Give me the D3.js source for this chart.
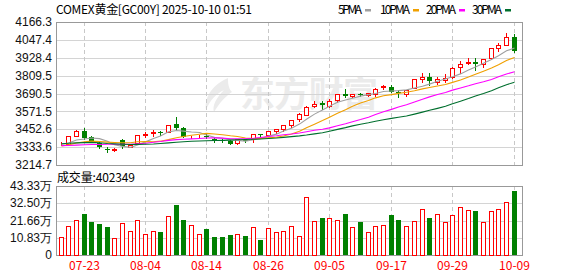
<!DOCTYPE html>
<html>
<head>
<meta charset="utf-8">
<script src="https://cdn.jsdelivr.net/npm/d3@7/dist/d3.min.js"></script>
<style>
  html, body { margin: 0; padding: 0; background: #fff; }
  svg { display: block; }
</style>
</head>
<body>
<script>
// COMEX gold daily K-line with MA lines and volume panel

// trading days shown (MM-DD)
var dates = ["07-18","07-21","07-22","07-23","07-24","07-25","07-28","07-29","07-30","07-31",
             "08-01","08-04","08-05","08-06","08-07","08-08","08-11","08-12","08-13","08-14",
             "08-15","08-18","08-19","08-20","08-21","08-22","08-25","08-26","08-27","08-28",
             "08-29","09-01","09-02","09-03","09-04","09-05","09-08","09-09","09-10","09-11",
             "09-12","09-15","09-16","09-17","09-18","09-19","09-22","09-23","09-24","09-25",
             "09-26","09-29","09-30","10-01","10-02","10-03","10-06","10-07","10-08","10-09"];

var open  = [3352,3356,3410,3440,3399,3360,3320,3316,3380,3337,
             3358,3413,3425,3434,3437,3487,3458,3400,3405,3410,
             3385,3379,3376,3359,3380,3390,3418,3412,3443,3452,
             3478,3520,3547,3605,3628,3609,3646,3686,3675,3686,
             3682,3686,3735,3735,3700,3688,3728,3786,3797,3770,
             3779,3797,3868,3894,3903,3887,3925,3996,4016,4068];
var high  = [3367,3410,3449,3458,3405,3368,3334,3325,3388,3350,
             3416,3436,3445,3442,3482,3535,3470,3410,3416,3418,
             3392,3387,3380,3390,3384,3420,3420,3442,3454,3482,
             3516,3562,3605,3638,3638,3657,3688,3718,3690,3692,
             3697,3725,3748,3750,3712,3716,3786,3824,3824,3799,
             3819,3865,3905,3927,3927,3919,3995,4025,4093,4086];
var low   = [3345,3350,3405,3388,3367,3327,3298,3310,3330,3333,
             3352,3403,3405,3415,3432,3452,3398,3396,3400,3393,
             3368,3370,3353,3355,3370,3365,3410,3405,3425,3438,
             3470,3510,3545,3598,3587,3603,3633,3670,3667,3675,
             3672,3673,3721,3698,3668,3675,3725,3770,3750,3755,
             3766,3795,3828,3887,3846,3867,3918,3975,4012,3965];
var close = [3355,3407,3438,3394,3376,3336,3318,3320,3342,3345,
             3414,3422,3432,3428,3480,3458,3402,3404,3410,3400,
             3376,3374,3357,3387,3375,3418,3415,3440,3452,3478,
             3513,3551,3602,3622,3613,3642,3684,3673,3685,3682,
             3691,3721,3740,3701,3695,3715,3784,3797,3773,3788,
             3791,3863,3890,3903,3885,3917,3992,4014,4065,3975];

// closes of the 29 sessions before the first shown day (needed for the MAs)
var priorClose = [3331,3343,3344,3343,3408,3452,3403,3408,3407,3388,
                  3385,3394,3333,3343,3348,3287,3307,3349,3357,3342,
                  3342,3310,3322,3325,3363,3359,3341,3359,3346];

// volume (contracts)
var volume = [110000,180000,218000,258000,207000,194000,175000,104000,199000,148000,
              218000,129000,148000,144000,243000,315000,220000,186000,129000,163000,
              112000,112000,125000,129000,118000,174000,93000,167000,142000,148000,
              180000,117000,364000,212000,232000,231000,218000,258000,174000,207000,
              142000,180000,186000,251000,220000,181000,212000,288000,232000,256000,
              205000,250000,300000,281000,277000,205000,275000,288000,332000,402349];

var priceTicks = [3214.7,3333.6,3452.6,3571.5,3690.5,3809.5,3928.4,4047.4,4166.3];
var volTicks   = [0,108300,216600,325000,433300];
var volLabels  = ["0","10.83万","21.66万","32.50万","43.33万"];
var dateTicks  = ["07-23","08-04","08-14","08-26","09-05","09-17","09-29","10-09"];

var maPeriods = [5,10,20,30];
var maNames   = ["5PMA","10PMA","20PMA","30PMA"];
var maColors  = ["#a0a0a0","#f0a000","#ff00ff","#006f2e"];

var width = 578, height = 276;
var plotL = 56, plotR = 522;
var mainTop = 22, mainBot = 165;
var volTop = 186, volBot = 255;
var RED = "#ff0000", GREEN = "#008000";
var CJK = "SimSun,'Noto Sans CJK SC',sans-serif";

var svg = d3.select("body").append("svg")
    .attr("width", width)
    .attr("height", height);

var x = d3.scaleBand()
    .domain(d3.range(dates.length))
    .range([56.7, 517.5]);
function cx(i) { return Math.round(x(i) + x.bandwidth() / 2); }

var y = d3.scaleLinear().domain([3214.7, 4166.3]).range([mainBot, mainTop]);
var yv = d3.scaleLinear().domain([0, 433300]).range([volBot, volTop]);
function px(v) { return Math.round(v) + 0.5; }

// watermark
var wm = svg.append("g").attr("fill", "#ebebeb");
wm.append("path")
    .attr("d", "M228,78 C214,84 204,96 206,110 C210,100 216,94 224,90 C216,98 212,106 214,112 C220,102 226,96 232,92 C228,88 228,82 228,78 Z");
wm.append("text")
    .attr("x", 240).attr("y", 107)
    .attr("font-family", CJK).attr("font-weight", "bold")
    .attr("font-size", 35)
    .attr("textLength", 138)
    .text("东方财富");

// grid: price panel
svg.append("g").selectAll("line")
    .data(priceTicks.slice(1, -1))
    .enter().append("line")
      .attr("x1", plotL).attr("x2", plotR)
      .attr("y1", function(d){ return px(y(d)); })
      .attr("y2", function(d){ return px(y(d)); })
      .attr("stroke", "#d4d4d4");

// grid: volume panel
svg.append("g").selectAll("line")
    .data(volTicks.slice(1, -1))
    .enter().append("line")
      .attr("x1", plotL).attr("x2", plotR)
      .attr("y1", function(d){ return px(yv(d)); })
      .attr("y2", function(d){ return px(yv(d)); })
      .attr("stroke", "#d4d4d4");

// vertical dashed grid at date ticks, both panels
var tickIdx = dateTicks.map(function(d){ return dates.indexOf(d); });
[[mainTop, mainBot], [volTop, volBot]].forEach(function(r){
  svg.append("g").selectAll("line")
      .data(tickIdx)
      .enter().append("line")
        .attr("x1", function(i){ return cx(i) + 0.5; })
        .attr("x2", function(i){ return cx(i) + 0.5; })
        .attr("y1", r[0]).attr("y2", r[1])
        .attr("stroke", "#c8c8c8")
        .attr("stroke-dasharray", "4,3");
});

// panel borders
[[mainTop, mainBot], [volTop, volBot]].forEach(function(r){
  svg.append("rect")
      .attr("x", plotL + 0.5).attr("y", r[0] + 0.5)
      .attr("width", plotR - plotL).attr("height", r[1] - r[0])
      .attr("fill", "none")
      .attr("stroke", "#999");
});

// y axis labels
svg.append("g").selectAll("text")
    .data(priceTicks)
    .enter().append("text")
      .attr("x", 52)
      .attr("y", function(d){ return y(d); })
      .attr("dy", "0.35em")
      .attr("text-anchor", "end")
      .attr("font-family", "'Liberation Sans',Arial,sans-serif")
      .attr("font-size", 12)
      .attr("fill", "#111")
      .text(function(d){ return d.toFixed(1); });

svg.append("g").selectAll("text")
    .data(volTicks)
    .enter().append("text")
      .attr("x", 52)
      .attr("y", function(d){ return yv(d); })
      .attr("dy", "0.35em")
      .attr("text-anchor", "end")
      .attr("font-family", "'Liberation Sans',Arial,sans-serif")
      .attr("font-size", 12)
      .attr("fill", "#111")
      .text(function(d, i){ return volLabels[i]; });

// date labels
svg.append("g").selectAll("text")
    .data(tickIdx)
    .enter().append("text")
      .attr("x", function(i){ return cx(i) + 0.5; })
      .attr("y", 270)
      .attr("text-anchor", "middle")
      .attr("font-family", CJK)
      .attr("font-size", 12)
      .attr("textLength", 31)
      .attr("fill", RED)
      .text(function(i){ return dates[i]; });

// candles
var idx = d3.range(dates.length);
var candles = svg.append("g").selectAll("g")
    .data(idx)
    .enter().append("g");

candles.append("line")
    .attr("x1", function(i){ return cx(i) + 0.5; })
    .attr("x2", function(i){ return cx(i) + 0.5; })
    .attr("y1", function(i){ return Math.round(y(high[i])); })
    .attr("y2", function(i){ return Math.round(y(low[i])) + 1; })
    .attr("stroke", function(i){ return close[i] >= open[i] ? RED : GREEN; });

candles.append("rect")
    .attr("x", function(i){ return close[i] >= open[i] ? cx(i) - 1.5 : cx(i) - 2; })
    .attr("y", function(i){
      var t = Math.round(y(Math.max(open[i], close[i])));
      return close[i] >= open[i] ? t + 0.5 : t;
    })
    .attr("width", function(i){ return close[i] >= open[i] ? 4 : 5; })
    .attr("height", function(i){
      var h = Math.round(y(Math.min(open[i], close[i]))) - Math.round(y(Math.max(open[i], close[i])));
      return close[i] >= open[i] ? Math.max(h, 0) : Math.max(h, 1);
    })
    .attr("fill", function(i){ return close[i] >= open[i] ? "#fff" : GREEN; })
    .attr("stroke", function(i){ return close[i] >= open[i] ? RED : "none"; });

// moving averages
var allClose = priorClose.concat(close);
var n0 = priorClose.length;
maPeriods.forEach(function(p, k){
  var ma = idx.map(function(i){
    return d3.mean(allClose.slice(n0 + i - p + 1, n0 + i + 1));
  });
  svg.append("path")
      .datum(ma)
      .attr("fill", "none")
      .attr("stroke", maColors[k])
      .attr("stroke-width", 1.1)
      .attr("d", d3.line()
          .x(function(d, i){ return cx(i) + 0.5; })
          .y(function(d){ return y(d); }));
});

// volume bars, coloured by change against the previous close
function volUp(i) {
  var prev = i === 0 ? priorClose[n0 - 1] : close[i - 1];
  return close[i] >= prev;
}
svg.append("g").selectAll("rect")
    .data(idx)
    .enter().append("rect")
      .attr("x", function(i){ return volUp(i) ? cx(i) - 1.5 : cx(i) - 2; })
      .attr("y", function(i){ return Math.round(yv(volume[i])) + (volUp(i) ? 0.5 : 0); })
      .attr("width", function(i){ return volUp(i) ? 4 : 5; })
      .attr("height", function(i){ return volBot - Math.round(yv(volume[i])); })
      .attr("fill", function(i){ return volUp(i) ? "#fff" : GREEN; })
      .attr("stroke", function(i){ return volUp(i) ? RED : "none"; });

// title
svg.append("text")
    .attr("x", 56).attr("y", 14)
    .attr("font-family", CJK).attr("font-size", 12)
    .attr("textLength", 196)
    .attr("fill", "#000")
    .text("COMEX黄金[GC00Y] 2025-10-10 01:51");

// legend
var legX = [338, 380, 426, 472];
var legW = [24, 30, 30, 30];
maNames.forEach(function(name, k){
  svg.append("text")
      .attr("x", legX[k]).attr("y", 14)
      .attr("font-family", CJK).attr("font-size", 12)
      .attr("textLength", legW[k])
      .attr("fill", "#000")
      .text(name);
  svg.append("rect")
      .attr("x", legX[k] + legW[k] + 3).attr("y", 9)
      .attr("width", 6).attr("height", 2.5)
      .attr("fill", maColors[k]);
});

// volume caption
svg.append("text")
    .attr("x", 57).attr("y", 182)
    .attr("font-family", CJK).attr("font-size", 12)
    .attr("textLength", 78)
    .attr("fill", "#000")
    .text("成交量:" + volume[volume.length - 1]);
</script>
</body>
</html>
